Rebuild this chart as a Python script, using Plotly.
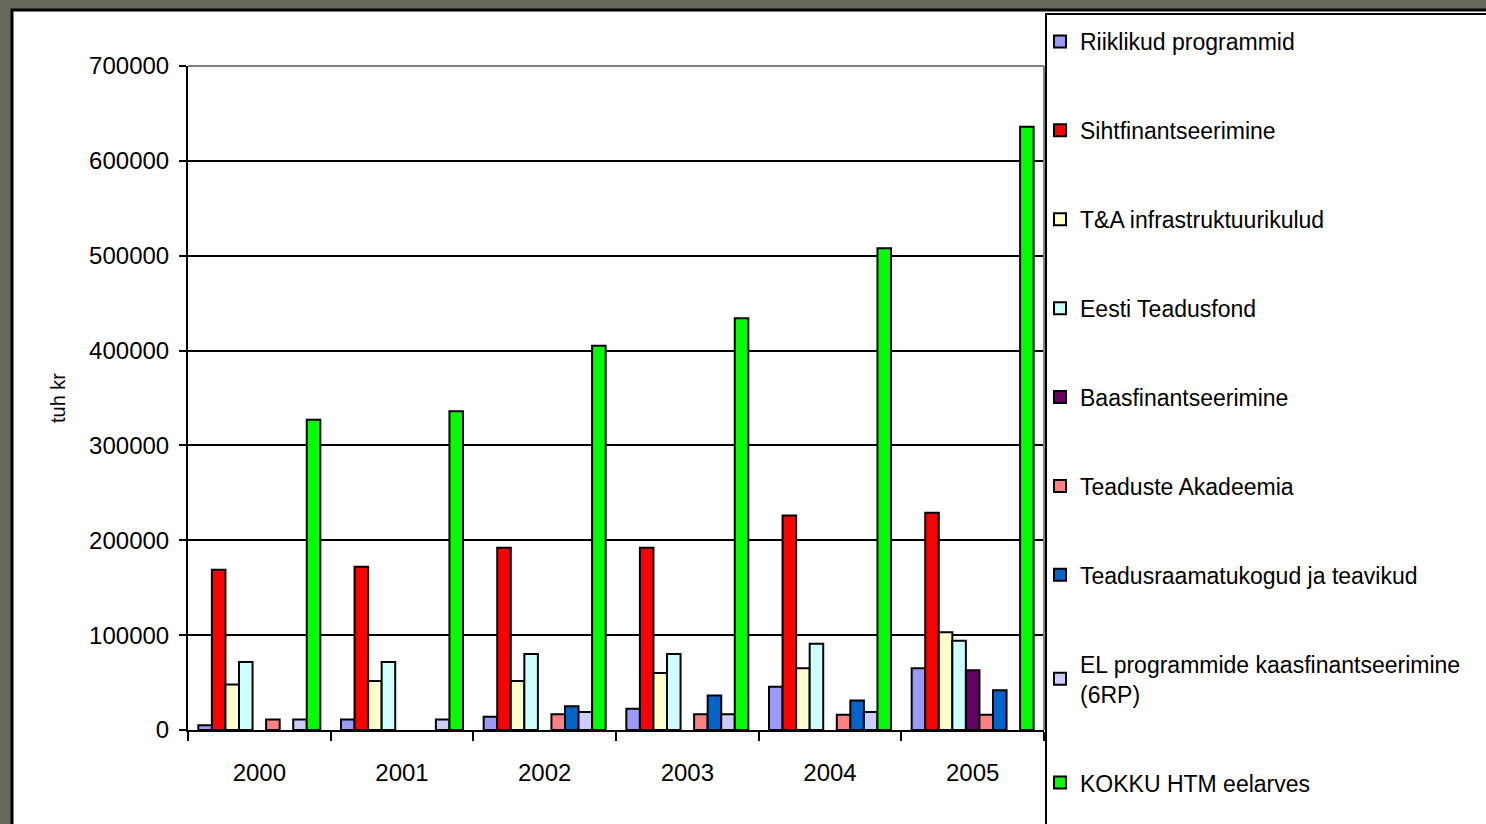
import plotly.graph_objects as go

years = ["2000", "2001", "2002", "2003", "2004", "2005"]

riiklikud = [5000, 11000, 14000, 22500, 45500, 65000]
sihtfin = [169000, 172000, 192000, 192000, 226000, 229000]
infra = [48000, 51600, 51600, 60000, 65000, 103000]
teadusfond = [71600, 71600, 80000, 80000, 91000, 94000]
baasfin = [None, None, None, None, None, 63000]
akadeemia = [11000, None, 16500, 16500, 16000, 16000]
raamatukogud = [None, None, 25000, 36500, 31000, 42000]
el_kaasfin = [11000, 11000, 19000, 16500, 19000, None]
kokku = [327000, 336000, 405000, 434000, 508000, 636000]

series = [
    ("Riiklikud programmid", riiklikud, "#9999FF"),
    ("Sihtfinantseerimine", sihtfin, "#FF0000"),
    ("T&A infrastruktuurikulud", infra, "#FFFFCC"),
    ("Eesti Teadusfond", teadusfond, "#CCFFFF"),
    ("Baasfinantseerimine", baasfin, "#660066"),
    ("Teaduste Akadeemia", akadeemia, "#FF8080"),
    ("Teadusraamatukogud ja teavikud", raamatukogud, "#0066CC"),
    ("EL programmide kaasfinantseerimine<br>(6RP)", el_kaasfin, "#CCCCFF"),
    ("KOKKU HTM eelarves", kokku, "#00FF00"),
]

FONT = "Liberation Sans, Arial, sans-serif"

fig = go.Figure()
for i, (name, vals, color) in enumerate(series):
    fig.add_trace(go.Bar(
        x=years, y=vals, name=name, legendgroup=f"g{i}",
        marker=dict(color=color, line=dict(color="black", width=2)),
    ))

# plot area in pixels: x 188..1044, y 66..730
L, R, T, B = 188, 1044, 66, 730
W, H = R - L, B - T


def px(x):
    return (x - L) / W


def py(y):
    return (B - y) / H


fig.update_layout(
    width=1486, height=824,
    margin=dict(l=L, r=1486 - R, t=T, b=824 - B, autoexpand=False),
    paper_bgcolor="#67675A",
    plot_bgcolor="#FFFFCC",
    font=dict(family=FONT, size=24, color="black"),
    barmode="group", bargap=0.145, bargroupgap=0,
    showlegend=True,
    legend=dict(
        x=px(1040), y=py(20), xanchor="left", yanchor="top",
        bgcolor="rgba(0,0,0,0)", borderwidth=0,
        font=dict(family=FONT, size=23, color="black"),
        tracegroupgap=56, traceorder="grouped", maxheight=1000,
    ),
    xaxis=dict(
        type="category", showline=True, linecolor="black", linewidth=2,
        ticks="outside", tickson="boundaries", ticklen=9, tickwidth=2, tickcolor="black",
        showgrid=False, tickfont=dict(size=24), ticklabelstandoff=20,
    ),
    yaxis=dict(
        range=[0, 700000], dtick=100000, tickformat="d",
        showline=True, linecolor="black", linewidth=2,
        ticks="outside", ticklen=7, tickwidth=2, tickcolor="black",
        showgrid=True, gridcolor="black", gridwidth=2, zeroline=False,
        tickfont=dict(size=24), ticklabelstandoff=5,
        title=dict(text="tuh kr", font=dict(size=20), standoff=18),
    ),
    shapes=[
        # white chart area
        dict(type="rect", xref="paper", yref="paper", layer="below",
             x0=px(12), x1=px(1500), y0=py(840), y1=py(10),
             fillcolor="white", line=dict(color="black", width=3)),
        # legend box
        dict(type="rect", xref="paper", yref="paper", layer="above",
             x0=px(1046), x1=px(1500), y0=py(840), y1=py(14),
             fillcolor="rgba(0,0,0,0)", line=dict(color="black", width=2)),
        dict(type="line", xref="paper", yref="paper",
             x0=0, x1=1, y0=1, y1=1, line=dict(color="#808080", width=2)),
        dict(type="line", xref="paper", yref="paper",
             x0=1, x1=1, y0=0, y1=1, line=dict(color="#808080", width=2)),
    ],
)

fig.write_html(
    "out.html",
    config={"displayModeBar": False},
    post_script="document.body.style.margin='0';document.body.style.overflow='hidden';",
)
